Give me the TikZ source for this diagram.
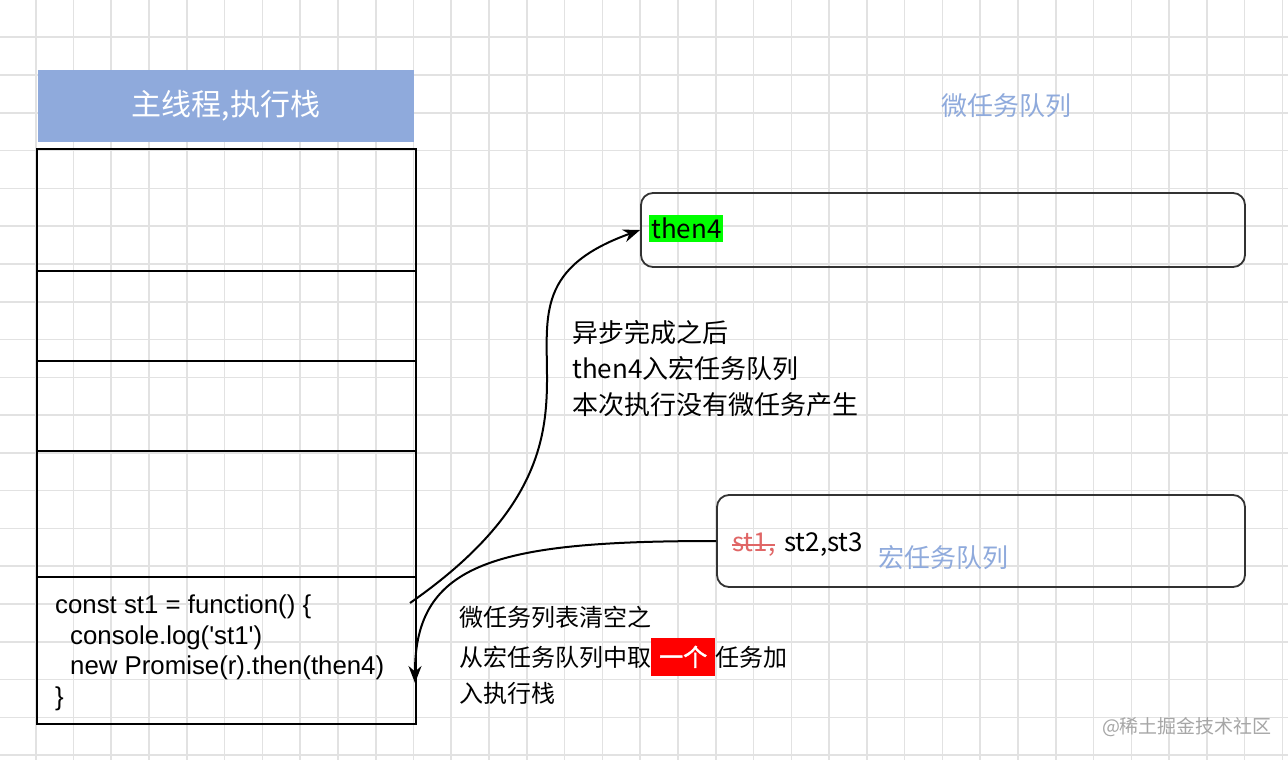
\documentclass[tikz,border=0pt]{standalone}
\usepackage{fontspec}
\setmainfont{Liberation Sans}
\newfontfamily\cjk{Noto Sans CJK SC}
\newfontfamily\cjkBold[FakeBold=2]{Noto Sans CJK SC}
\usetikzlibrary{arrows.meta}
\definecolor{headBlue}{HTML}{8FAADC}
\definecolor{gridGray}{HTML}{E2E2E2}
\definecolor{boxGray}{HTML}{333333}
\definecolor{stRed}{HTML}{E06666}
\definecolor{hiGreen}{HTML}{00FF00}
\definecolor{hiRed}{HTML}{FF0000}
\definecolor{markGray}{HTML}{A6A6A6}

\begin{document}
\begin{tikzpicture}[x=1pt,y=-1pt]
  \tikzstyle{gridLine}=[draw=gridGray,line width=1.6pt]
  \tikzstyle{cellStyle}=[draw=black,line width=2pt,minimum width=379pt,inner sep=0pt]
  \tikzstyle{queueStyle}=[draw=boxGray,line width=1.8pt,rounded corners=12pt,inner sep=0pt]
  \tikzstyle{emptyStyle}=[inner sep=0pt,align=left,font=\cjk\fontsize{24}{36}\selectfont]
  \tikzstyle{taskStyle}=[inner sep=0pt,font=\cjk\fontsize{26}{30}\selectfont]
  \tikzstyle{blueLabel}=[text=headBlue,inner sep=0pt,font=\cjk\fontsize{26}{30}\selectfont]
  \tikzstyle{arrowStyle}=[line width=2pt,-{Stealth[length=17pt,width=13pt]}]

  \fill[white,use as bounding box] (0,0) rectangle (1288,760);
  \foreach \i in {0,...,33} \draw[gridLine] ({35.7+37.78*\i},0) -- ({35.7+37.78*\i},760);
  \foreach \j in {0,...,20} \draw[gridLine] (0,{-0.5+37.78*\j}) -- (1288,{-0.5+37.78*\j});

  \begin{scope}
   \node[fill=headBlue,minimum width=376pt,minimum height=72pt,inner sep=0pt,text=white,font=\cjk\fontsize{30}{32}\selectfont](mainThread) at (226,106) {主线程,执行栈};

   \node[cellStyle,minimum height=122pt](cell1) at (226.5,210) {};
   \node[cellStyle,minimum height=90pt](cell2) at (226.5,316) {};
   \node[cellStyle,minimum height=90pt](cell3) at (226.5,406) {};
   \node[cellStyle,minimum height=126pt](cell4) at (226.5,514) {};
   \node[cellStyle,minimum height=147pt](cell5) at (226.5,650.5) {};
   \node[anchor=west,inner sep=0pt,align=left,font=\fontsize{25.8}{30.5}\selectfont](st1Code) at (55,653) {const st1 = function() \{\\ \hspace*{15pt}console.log(\textquotesingle st1\textquotesingle)\\ \hspace*{15pt}new Promise(r).then(then4)\\ \}};

   \node[blueLabel](microLabel) at (1006,106) {微任务队列};
   \node[queueStyle,minimum width=604pt,minimum height=74pt](microQueue) at (943,230) {};
   \node[taskStyle,anchor=west,fill=hiGreen,inner xsep=2pt,inner ysep=3pt](then4) at (649,228.5) {then4};

   \node[queueStyle,minimum width=528pt,minimum height=92pt](macroQueue) at (981,541) {};
   \node[taskStyle,anchor=base west,text=stRed](st1Done) at (732,551) {st1,};
   \draw[stRed,line width=1.5pt] ([yshift=-1pt]st1Done.west) -- ([yshift=-1pt]st1Done.east);
   \node[taskStyle,anchor=base west](macroTasks) at (784,551) {st2,st3};
   \node[blueLabel](macroLabel) at (943,558) {宏任务队列};

   \node[emptyStyle,anchor=base west,font=\cjk\fontsize{26}{36}\selectfont](asyncNote) at (572,414) {异步完成之后\\then4入宏任务队列\\本次执行没有微任务产生};
   \node[emptyStyle,anchor=base west](clearNote) at (459,702) {微任务列表清空之\\[4pt]从宏任务队列中取{\setlength{\fboxsep}{8pt}\colorbox{hiRed}{\cjkBold\textcolor{white}{一个}}}任务加\\入执行栈};

   \coordinate (stackOut) at (410,603);
   \coordinate (stackIn) at (415,683);
   \draw[arrowStyle] (stackOut) .. controls (667,424) and (445,300) .. (microQueue.west);
   \draw[arrowStyle] (macroQueue.west) .. controls (497,541) and (415,562) .. (stackIn);

   \node[text=markGray,font=\cjk\fontsize{19}{20}\selectfont](watermark) at (1187,727) {@稀土掘金技术社区};
  \end{scope}

\end{tikzpicture}
\end{document}
